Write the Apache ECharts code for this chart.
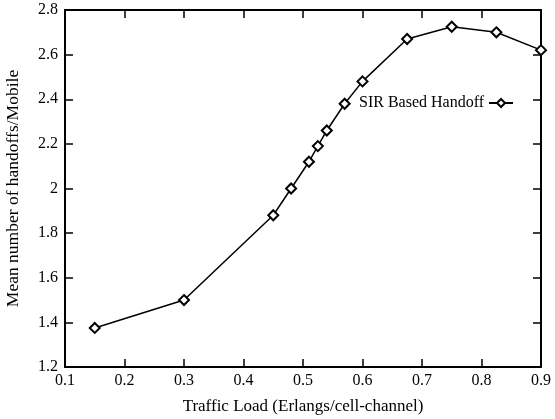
<!DOCTYPE html>
<html>
<head>
<meta charset="utf-8">
<script src="https://cdn.jsdelivr.net/npm/echarts@6/dist/echarts.min.js"></script>
<style>html,body{margin:0;padding:0;background:#fff}#c{width:555px;height:419px}</style>
</head>
<body>
<div id="c"></div>
<script>
var trafficLoad = [0.15, 0.3, 0.45, 0.48, 0.51, 0.525, 0.54, 0.57, 0.6, 0.675, 0.75, 0.825, 0.9];
var handoffs = [1.375, 1.50, 1.88, 2.00, 2.12, 2.19, 2.26, 2.38, 2.48, 2.67, 2.725, 2.70, 2.62];
var seriesName = 'SIR Based Handoff';
var xTitle = 'Traffic Load (Erlangs/cell-channel)';
var yTitle = 'Mean number of handoffs/Mobile';

var font = '"Liberation Serif", "DejaVu Serif", serif';
var chart = echarts.init(document.getElementById('c'));
var axisLine = {show: true, onZero: false, lineStyle: {color: '#000', width: 2}};
var tick = {show: true, inside: true, length: 8, lineStyle: {color: '#000', width: 1.5}};
var label = {color: '#000', fontFamily: font, fontSize: 16};
chart.setOption({
  animation: false,
  grid: {left: 65, right: 14, top: 10, bottom: 52, containLabel: false, outerBoundsMode: 'none'},
  legend: {
    data: [seriesName], left: 354, top: 90, align: 'right',
    itemWidth: 24, itemHeight: 10, itemGap: 5,
    textStyle: {color: '#000', fontFamily: font, fontSize: 16}
  },
  xAxis: [
    {type: 'value', min: 0.1, max: 0.9, interval: 0.1, position: 'bottom',
     axisLine: axisLine, axisTick: tick, splitLine: {show: false},
     axisLabel: Object.assign({margin: 6, formatter: function(v){return +v.toFixed(1);}}, label),
     name: xTitle, nameLocation: 'middle', nameGap: 31,
     nameTextStyle: {color: '#000', fontFamily: font, fontSize: 17}},
    {type: 'value', min: 0.1, max: 0.9, interval: 0.1, position: 'top',
     axisLine: axisLine, axisTick: tick, splitLine: {show: false}, axisLabel: {show: false}}
  ],
  yAxis: [
    {type: 'value', min: 1.2, max: 2.8, interval: 0.2, position: 'left',
     axisLine: axisLine, axisTick: tick, splitLine: {show: false},
     axisLabel: Object.assign({margin: 7, formatter: function(v){return +v.toFixed(1);}}, label),
     name: yTitle, nameLocation: 'middle', nameGap: 43,
     nameTextStyle: {color: '#000', fontFamily: font, fontSize: 17.5}},
    {type: 'value', min: 1.2, max: 2.8, interval: 0.2, position: 'right',
     axisLine: axisLine, axisTick: tick, splitLine: {show: false}, axisLabel: {show: false}}
  ],
  series: [{
    name: seriesName, type: 'line',
    data: trafficLoad.map(function(x, i){ return [x, handoffs[i]]; }),
    symbol: 'diamond', symbolSize: 10, showAllSymbol: true,
    lineStyle: {color: '#000', width: 1.5},
    itemStyle: {color: '#fff', borderColor: '#000', borderWidth: 2}
  }]
});
</script>
</body>
</html>
